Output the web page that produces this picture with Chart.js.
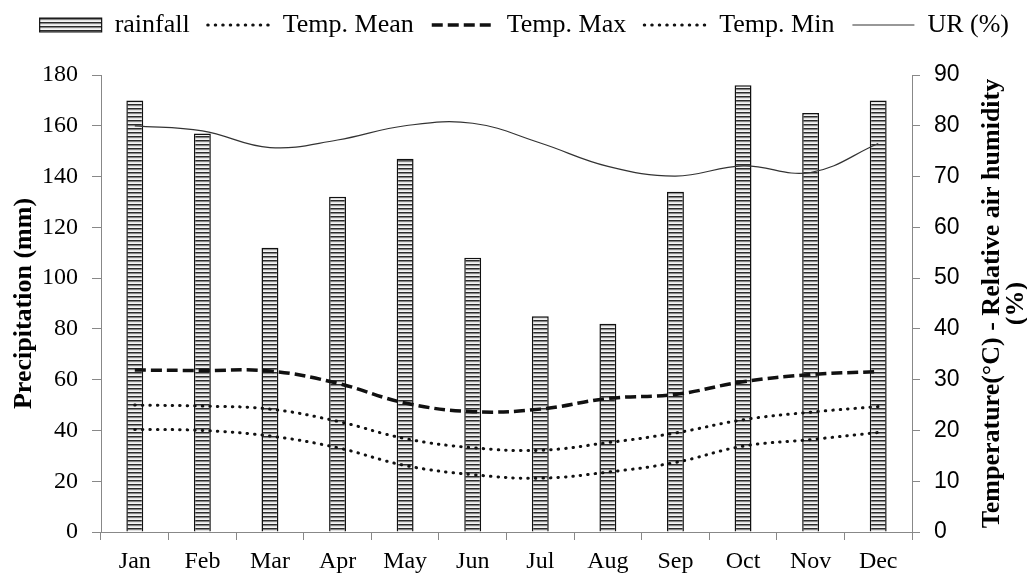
<!DOCTYPE html>
<html>
<head>
<meta charset="utf-8">
<script src="https://cdn.jsdelivr.net/npm/chart.js@4.4.1/dist/chart.umd.min.js"></script>
<style>
  html, body { margin: 0; padding: 0; background: #fff; }
  #wrap { width: 1027px; height: 574px; }
</style>
</head>
<body>
<div id="wrap"><canvas id="grafica" width="1027" height="574"></canvas></div>
<script>
var meses = ["Jan", "Feb", "Mar", "Apr", "May", "Jun", "Jul", "Aug", "Sep", "Oct", "Nov", "Dec"];
var lluvia = [170, 157, 112, 132, 147, 108, 85, 82, 134, 176, 165, 170];
var tempMedia = [25, 24.8, 24.2, 21.8, 18.4, 16.6, 16.1, 17.6, 19.5, 22.1, 23.6, 24.7];
var tempMax = [31.9, 31.8, 31.7, 29.3, 25.4, 23.7, 24.2, 26.3, 27.1, 29.6, 31, 31.6];
var tempMin = [20.2, 20, 18.9, 16.6, 13.1, 11.3, 10.6, 11.8, 13.7, 16.9, 18.2, 19.6];
var humedad = [80, 79, 75.7, 77.2, 80, 80.5, 76.6, 72, 70.1, 72.1, 70.8, 76.5];

var fuenteSerif = "'Liberation Serif', 'Times New Roman', serif";
var fuenteSans = "'Liberation Sans', Arial, sans-serif";

// relleno rayado de las barras
function crearRayado() {
    var c = document.createElement("canvas");
    c.width = 4;
    c.height = 4;
    var g = c.getContext("2d");
    g.fillStyle = "#f4f4f4";
    g.fillRect(0, 0, 4, 4);
    g.fillStyle = "#2a2a2a";
    g.fillRect(0, 0, 4, 1.6);
    g.fillStyle = "#9a9a9a";
    g.fillRect(0, 1.6, 4, 0.6);
    return g.createPattern(c, "repeat");
}
var rayado = crearRayado();

var ajustarLeyenda = {
    id: "ajustarLeyenda",
    beforeInit: function (chart) {
        var fitOriginal = chart.legend.fit;
        chart.legend.fit = function () {
            fitOriginal.bind(this)();
            this.height = 75;
        };
        var drawOriginal = chart.legend.draw;
        chart.legend.draw = function () {
            this.ctx.save();
            this.ctx.translate(0, -6);
            drawOriginal.bind(this)();
            this.ctx.restore();
        };
    }
};

var tituloDerecho = {
    id: "tituloDerecho",
    afterDraw: function (chart) {
        var ctx = chart.ctx;
        var area = chart.chartArea;
        var cy = (area.top + area.bottom) / 2;
        ctx.save();
        ctx.fillStyle = "#000";
        ctx.font = "bold 26px " + fuenteSerif;
        ctx.textAlign = "center";
        ctx.textBaseline = "middle";
        ctx.translate(992, cy);
        ctx.rotate(-Math.PI / 2);
        ctx.fillText("Temperature(°C) - Relative air humidity", 0, 0);
        ctx.fillText("(%)", 0, 24);
        ctx.restore();
    }
};

var datos = {
    labels: meses,
    datasets: [
        {
            type: "bar",
            label: "rainfall",
            data: lluvia,
            backgroundColor: rayado,
            borderColor: "#111",
            borderWidth: 1.5,
            barPercentage: 0.25,
            categoryPercentage: 1,
            yAxisID: "y",
            order: 2
        },
        {
            type: "line",
            label: "Temp. Mean",
            data: tempMedia,
            borderColor: "#111",
            borderWidth: 3,
            borderDash: [0.5, 7],
            borderCapStyle: "round",
            tension: 0.4,
            pointRadius: 0,
            fill: false,
            yAxisID: "y1",
            order: 1
        },
        {
            type: "line",
            label: "Temp. Max",
            data: tempMax,
            borderColor: "#111",
            borderWidth: 3.5,
            borderDash: [11, 5],
            tension: 0.4,
            pointRadius: 0,
            fill: false,
            yAxisID: "y1",
            order: 1
        },
        {
            type: "line",
            label: "Temp. Min",
            data: tempMin,
            borderColor: "#111",
            borderWidth: 3,
            borderDash: [0.5, 7],
            borderCapStyle: "round",
            tension: 0.4,
            pointRadius: 0,
            fill: false,
            yAxisID: "y1",
            order: 1
        },
        {
            type: "line",
            label: "UR (%)",
            data: humedad,
            borderColor: "#333",
            borderWidth: 1.2,
            tension: 0.4,
            pointRadius: 0,
            fill: false,
            yAxisID: "y1",
            order: 1
        }
    ]
};

new Chart(document.getElementById("grafica").getContext("2d"), {
    data: datos,
    plugins: [ajustarLeyenda, tituloDerecho],
    options: {
        responsive: false,
        animation: false,
        layout: { padding: 0 },
        plugins: {
            tooltip: { enabled: false },
            legend: {
                position: "top",
                align: "end",
                labels: {
                    usePointStyle: true,
                    pointStyleWidth: 62,
                    boxHeight: 14,
                    padding: 18,
                    color: "#000",
                    font: { family: fuenteSerif, size: 26 },
                    generateLabels: function (chart) {
                        return chart.data.datasets.map(function (ds, i) {
                            return {
                                text: ds.label,
                                fillStyle: ds.type === "bar" ? rayado : "rgba(0,0,0,0)",
                                strokeStyle: ds.borderColor,
                                lineWidth: ds.type === "bar" ? 1.2 : ds.borderWidth,
                                lineDash: ds.type === "bar" ? [] : (ds.borderDash || []),
                                lineCap: ds.borderCapStyle || "butt",
                                pointStyle: ds.type === "bar" ? "rect" : "line",
                                fontColor: "#000",
                                datasetIndex: i,
                                hidden: false
                            };
                        });
                    }
                }
            }
        },
        scales: {
            x: {
                grid: { drawOnChartArea: false, color: "#888", tickLength: 8, offset: true },
                border: { color: "#888", width: 1 },
                ticks: { color: "#000", font: { family: fuenteSerif, size: 24 }, padding: 7 },
                afterFit: function (s) { s.height = 42; }
            },
            y: {
                position: "left",
                min: 0,
                max: 180,
                ticks: { stepSize: 20, color: "#000", font: { family: fuenteSerif, size: 24 }, padding: 14 },
                grid: { drawOnChartArea: false, color: "#888", tickLength: 9 },
                border: { color: "#888", width: 1 },
                title: {
                    display: true,
                    text: "Precipitation (mm)",
                    color: "#000",
                    font: { family: fuenteSerif, size: 26, weight: "bold" },
                    padding: { top: 9, bottom: 0 }
                },
                afterFit: function (s) { s.width = 101; }
            },
            y1: {
                position: "right",
                min: 0,
                max: 90,
                ticks: { stepSize: 10, color: "#000", font: { family: fuenteSans, size: 23 }, padding: 14 },
                grid: { drawOnChartArea: false, color: "#888", tickLength: 8 },
                border: { color: "#888", width: 1 },
                afterFit: function (s) { s.width = 115; }
            }
        }
    }
});
</script>
</body>
</html>
